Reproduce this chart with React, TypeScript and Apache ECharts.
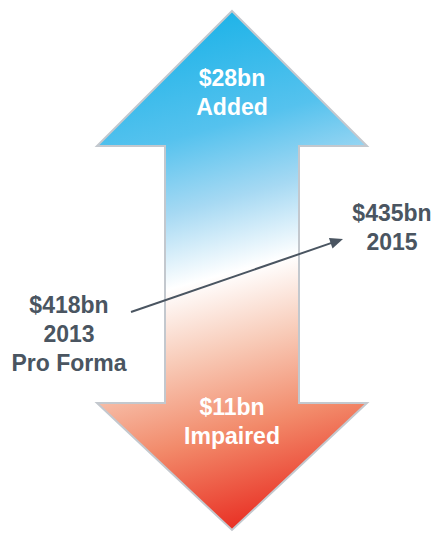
import React, { useEffect, useRef } from "react";
import * as echarts from "echarts";

const addedLabel = ["$28bn", "Added"];
const impairedLabel = ["$11bn", "Impaired"];
const startLabel = ["$418bn", "2013", "Pro Forma"];
const endLabel = ["$435bn", "2015"];

const FONT = '"Liberation Sans", Arial, Helvetica, sans-serif';
const DARK = "#4a5561";

export default function App() {
  const ref = useRef<HTMLDivElement>(null);
  useEffect(() => {
    if (!ref.current) return;
    const chart = echarts.init(ref.current, undefined, { renderer: "svg" });

    const cx = 232;
    const shaftL = 165, shaftR = 299;
    const barbL = 97, barbR = 367;
    const topY = 11, topBarb = 146, botBarb = 403, botY = 530;

    const arrowPts = [
      [cx, topY], [barbR, topBarb], [shaftR, topBarb], [shaftR, botBarb],
      [barbR, botBarb], [cx, botY], [barbL, botBarb], [shaftL, botBarb],
      [shaftL, topBarb], [barbL, topBarb],
    ];

    const sx = 131, sy = 312, tx = 343, ty = 239;
    const dx = tx - sx, dy = ty - sy;
    const len = Math.sqrt(dx * dx + dy * dy);
    const ux = dx / len, uy = dy / len;
    const hl = 13, hw = 5.5;
    const bx = tx - ux * hl, by = ty - uy * hl;
    const px = -uy, py = ux;

    const textLines = (lines: string[], x: number, y0: number, step: number, color: string, size: number) =>
      lines.map((t, i) => ({
        type: "text",
        style: {
          x, y: y0 + i * step, text: t, fill: color,
          font: `bold ${size}px ${FONT}`, align: "center", verticalAlign: "middle",
        },
      }));

    chart.setOption({
      animation: false,
      graphic: [
        {
          type: "polygon",
          shape: { points: arrowPts },
          style: {
            fill: {
              type: "linear", global: true,
              x: 164, y: 24, x2: 300, y2: 520,
              colorStops: [
                { offset: 0, color: "#1db3e8" },
                { offset: 0.22, color: "#55c2ee" },
                { offset: 0.36, color: "#a6d9f3" },
                { offset: 0.5, color: "#ffffff" },
                { offset: 0.64, color: "#f8cbb8" },
                { offset: 0.8, color: "#f28a6a" },
                { offset: 1, color: "#e8281e" },
              ],
            },
            stroke: "#c3c8ce",
            lineWidth: 2,
          },
        },
        ...textLines(addedLabel, cx, 78, 29, "#ffffff", 23),
        ...textLines(impairedLabel, cx, 407, 29, "#ffffff", 23),
        ...textLines(startLabel, 69, 305, 29, DARK, 23),
        ...textLines(endLabel, 392, 213, 29, DARK, 23),
        {
          type: "line",
          shape: { x1: sx, y1: sy, x2: bx + ux * 1, y2: by + uy * 1 },
          style: { stroke: DARK, lineWidth: 2 },
        },
        {
          type: "polygon",
          shape: { points: [[tx, ty], [bx + px * hw, by + py * hw], [bx - px * hw, by - py * hw]] },
          style: { fill: DARK },
        },
      ],
    });
    return () => chart.dispose();
  }, []);
  return (
    <div
      ref={ref}
      style={{ position: "fixed", left: 0, top: 0, width: 435, height: 533, background: "#ffffff" }}
    />
  );
}
